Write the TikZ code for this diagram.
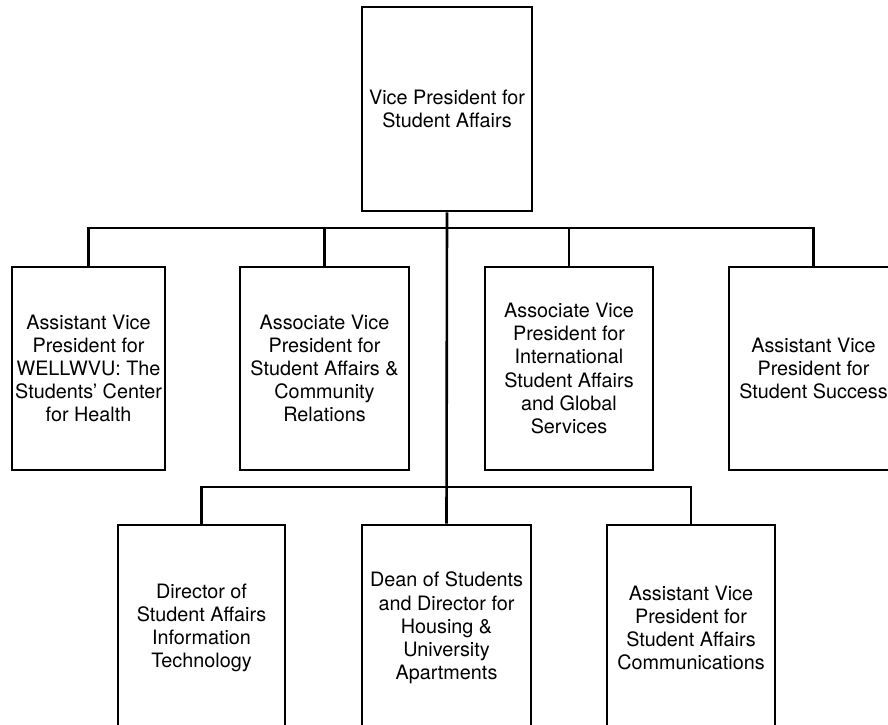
\documentclass[tikz,border=0pt]{standalone}
\usepackage{fontspec}
\setmainfont{TeX Gyre Heros}

\begin{document}
\begin{tikzpicture}[
            x=1pt, y=-1pt,
            every node/.style={font=\fontsize{19.8}{23.2}\selectfont},
            office/.style={draw, rectangle, line width=2.6pt, inner sep=0pt, align=center, minimum height=203pt},
            conn/.style={line width=2.6pt}
        ]

            % 1. Fix the page size
            \useasboundingbox (0,0) rectangle (888,724);

            % 2. Top box
            \node[office, minimum width=170pt, minimum height=204pt] (vp) at (447,109) {Vice President for\\Student Affairs};

            % 3. First row of offices
            \node[office, minimum width=153pt] (wellwvu) at (88.5,368.5) {Assistant Vice\\President for\\WELLWVU: The\\Students' Center\\for Health};
            \node[office, minimum width=169pt] (community) at (324.5,368.5) {Associate Vice\\President for\\Student Affairs \&\\Community\\Relations};
            \node[office, minimum width=168pt] (intl) at (569,368.5) {Associate Vice\\President for\\International\\Student Affairs\\and Global\\Services};
            \node[office, minimum width=169pt] (success) at (813.5,368.5) {Assistant Vice\\President for\\Student Success};

            % 4. Second row of offices
            \node[office, minimum width=167pt, minimum height=206pt] (ittech) at (201.5,628) {Director of\\Student Affairs\\Information\\Technology};
            \node[office, minimum width=169pt, minimum height=206pt] (dean) at (446.5,628) {Dean of Students\\and Director for\\Housing \&\\University\\Apartments};
            \node[office, minimum width=168pt, minimum height=206pt] (comms) at (691,628) {Assistant Vice\\President for\\Student Affairs\\Communications};

            % 5. Connectors
            \coordinate (bus1) at (447,228);
            \coordinate (bus2) at (447,487);
            \draw[conn] (vp.south) -- (dean.north);
            \draw[conn] (wellwvu.north) |- (bus1) -| (success.north);
            \draw[conn] (community.north) -- (community.north |- bus1);
            \draw[conn] (intl.north) -- (intl.north |- bus1);
            \draw[conn] (ittech.north) |- (bus2) -| (comms.north);

        \end{tikzpicture}
\end{document}
